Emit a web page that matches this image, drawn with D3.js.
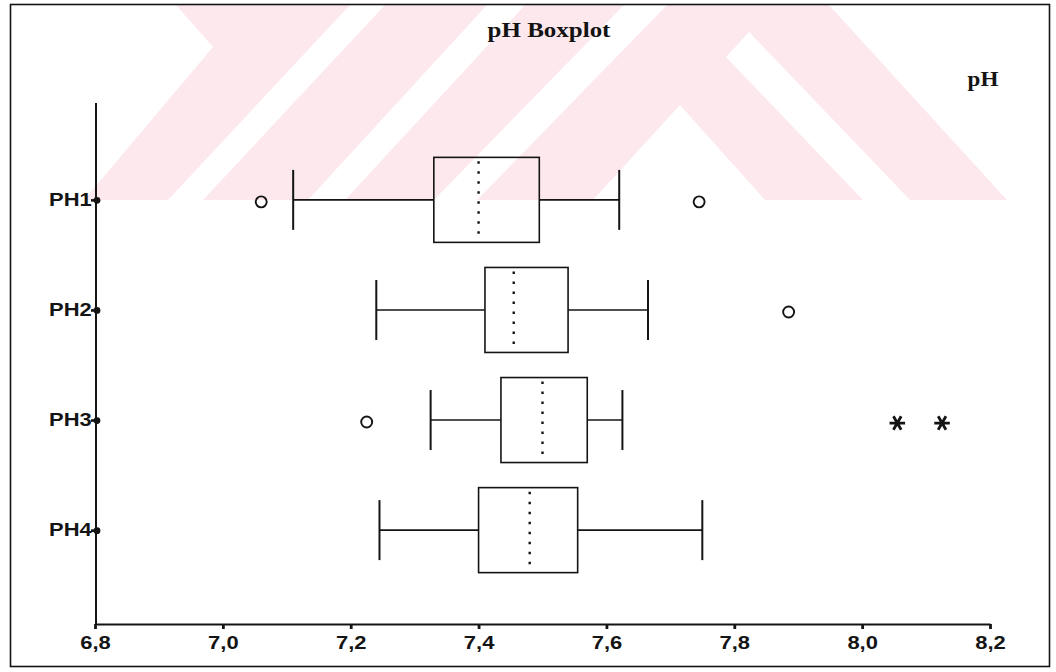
<!DOCTYPE html>
<html><head><meta charset="utf-8">
<script src="https://cdn.jsdelivr.net/npm/d3@7"></script>
<style>html,body{margin:0;padding:0;background:#fff;} svg{display:block;}</style>
</head><body><svg id="chart" width="1056" height="672"></svg>
<script>
// ---- data ----
const categories   = ["PH1", "PH2", "PH3", "PH4"];
const whiskerLow   = [7.11, 7.24, 7.325, 7.245];
const quartile1    = [7.33, 7.41, 7.435, 7.40];
const medians      = [7.40, 7.455, 7.50, 7.48];
const quartile3    = [7.495, 7.54, 7.57, 7.555];
const whiskerHigh  = [7.62, 7.665, 7.625, 7.75];
const outlierGroups = ["PH1", "PH1", "PH2", "PH3"];
const outlierValues = [7.06, 7.745, 7.885, 7.225];
const extremeGroups = ["PH3", "PH3"];
const extremeValues = [8.055, 8.125];
const xTicks = [6.8, 7.0, 7.2, 7.4, 7.6, 7.8, 8.0, 8.2];
const titleText = "pH Boxplot";
const variableLabel = "pH";

// ---- drawing ----
const svg = d3.select("#chart");
const ink = "#141414";

// faint background watermark (scan artefact of the source page)
const wm = svg.append("g").attr("class", "watermark");
wm.append("rect").attr("x", 11).attr("y", 5).attr("width", 1038).attr("height", 195).attr("fill", "#fde9ed");
const whiteCuts = [
  [[11,5],[176,5],[213,47],[84,200],[11,200]],
  [[350,5],[385,5],[203,200],[168,200]],
  [[487,5],[525,5],[345,200],[308,200]],
  [[624,5],[667,5],[477,200],[434,200]],
  [[726,57],[749,32],[910,200],[863,200]],
  [[680,105],[765,200],[593,200]],
  [[829,5],[1049,5],[1049,200],[1007,200]]
];
wm.selectAll("polygon.cut").data(whiteCuts).join("polygon")
  .attr("class", "cut")
  .attr("points", d => d.map(p => p.join(",")).join(" "))
  .attr("fill", "#ffffff");

// outer frame
svg.append("rect").attr("x", 10.5).attr("y", 4.5).attr("width", 1039).attr("height", 662)
  .attr("fill", "none").attr("stroke", ink).attr("stroke-width", 1.6);

const x = d3.scaleLinear().domain([6.8, 8.2]).range([95, 990]);
const y = d3.scalePoint().domain(categories).range([103, 627]).padding(0.88);
const axisY = 624;
const boxH = 85, capH = 60;

const locale = d3.formatLocale({decimal: ",", thousands: ".", grouping: [3], currency: ["", ""]});
const fmt = locale.format(".1f");

// x axis
const gx = svg.append("g").attr("transform", `translate(0,${axisY})`)
  .call(d3.axisBottom(x).tickValues(xTicks).tickFormat(fmt).tickSize(5).tickSizeOuter(0).tickPadding(7));
gx.select(".domain").attr("stroke", ink).attr("stroke-width", 2);
gx.selectAll(".tick line").attr("stroke", ink).attr("stroke-width", 2.8);
gx.selectAll(".tick text")
  .attr("fill", ink)
  .style("font-family", "'Liberation Sans', Arial, sans-serif")
  .style("font-size", "18px")
  .style("font-weight", "bold")
  .attr("transform", "scale(1.22,1)");

// y axis
const yAxisX = x(6.8) + 1;
const gy = svg.append("g").attr("transform", `translate(${yAxisX},0)`)
  .call(d3.axisLeft(y).tickSize(5).tickSizeOuter(0));
gy.select(".domain").remove();
gy.append("line").attr("x1", 0).attr("x2", 0).attr("y1", y.range()[0]).attr("y2", axisY)
  .attr("stroke", ink).attr("stroke-width", 2);
gy.selectAll(".tick line").attr("stroke", ink).attr("stroke-width", 2.6);
gy.selectAll(".tick").append("circle").attr("cx", 1).attr("r", 3.4).attr("fill", ink);
gy.selectAll(".tick text")
  .attr("x", -3.5)
  .attr("fill", ink)
  .style("font-family", "'Liberation Sans', Arial, sans-serif")
  .style("font-size", "18px")
  .style("font-weight", "bold")
  .attr("transform", "scale(1.22,1)");

// boxes
const rows = categories.map((c, i) => ({c, lo: whiskerLow[i], q1: quartile1[i], med: medians[i], q3: quartile3[i], hi: whiskerHigh[i]}));
const gb = svg.append("g").attr("stroke", ink).attr("fill", "none");
const row = gb.selectAll("g.row").data(rows).join("g").attr("class", "row");
row.append("line").attr("x1", d => x(d.lo)).attr("x2", d => x(d.q1)).attr("y1", d => y(d.c)).attr("y2", d => y(d.c)).attr("stroke-width", 1.6);
row.append("line").attr("x1", d => x(d.q3)).attr("x2", d => x(d.hi)).attr("y1", d => y(d.c)).attr("y2", d => y(d.c)).attr("stroke-width", 1.6);
row.append("line").attr("x1", d => x(d.lo)).attr("x2", d => x(d.lo)).attr("y1", d => y(d.c) - capH/2).attr("y2", d => y(d.c) + capH/2).attr("stroke-width", 2);
row.append("line").attr("x1", d => x(d.hi)).attr("x2", d => x(d.hi)).attr("y1", d => y(d.c) - capH/2).attr("y2", d => y(d.c) + capH/2).attr("stroke-width", 2);
row.append("rect").attr("x", d => x(d.q1)).attr("y", d => y(d.c) - boxH/2)
  .attr("width", d => x(d.q3) - x(d.q1)).attr("height", boxH).attr("stroke-width", 1.6);
row.append("line").attr("x1", d => x(d.med)).attr("x2", d => x(d.med))
  .attr("y1", d => y(d.c) - boxH/2 + 4).attr("y2", d => y(d.c) + boxH/2 - 2)
  .attr("stroke-width", 2.4).attr("stroke-dasharray", "2.5,7.5");

// outliers
const outliers = outlierValues.map((v, i) => ({c: outlierGroups[i], v}));
svg.append("g").selectAll("circle").data(outliers).join("circle")
  .attr("cx", d => x(d.v)).attr("cy", d => y(d.c) + 2).attr("r", 5.5)
  .attr("fill", "none").attr("stroke", ink).attr("stroke-width", 1.9);

// extreme values
const extremes = extremeValues.map((v, i) => ({c: extremeGroups[i], v}));
svg.append("g").selectAll("path").data(extremes).join("path")
  .attr("d", d3.symbol(d3.symbolAsterisk, 170))
  .attr("transform", d => `translate(${x(d.v)},${y(d.c) + 3}) rotate(90)`)
  .attr("fill", "none").attr("stroke", ink).attr("stroke-width", 2.8);

// title and variable label
svg.append("g").attr("transform", "translate(549,37) scale(1.19,1)")
  .append("text").attr("text-anchor", "middle").attr("fill", ink)
  .style("font-family", "'Liberation Serif', 'Times New Roman', serif")
  .style("font-size", "21px").style("font-weight", "bold").text(titleText);
svg.append("g").attr("transform", "translate(983,86) scale(1.1,1)")
  .append("text").attr("text-anchor", "middle").attr("fill", ink)
  .style("font-family", "'Liberation Serif', 'Times New Roman', serif")
  .style("font-size", "21px").style("font-weight", "bold").text(variableLabel);
</script>
</body></html>
